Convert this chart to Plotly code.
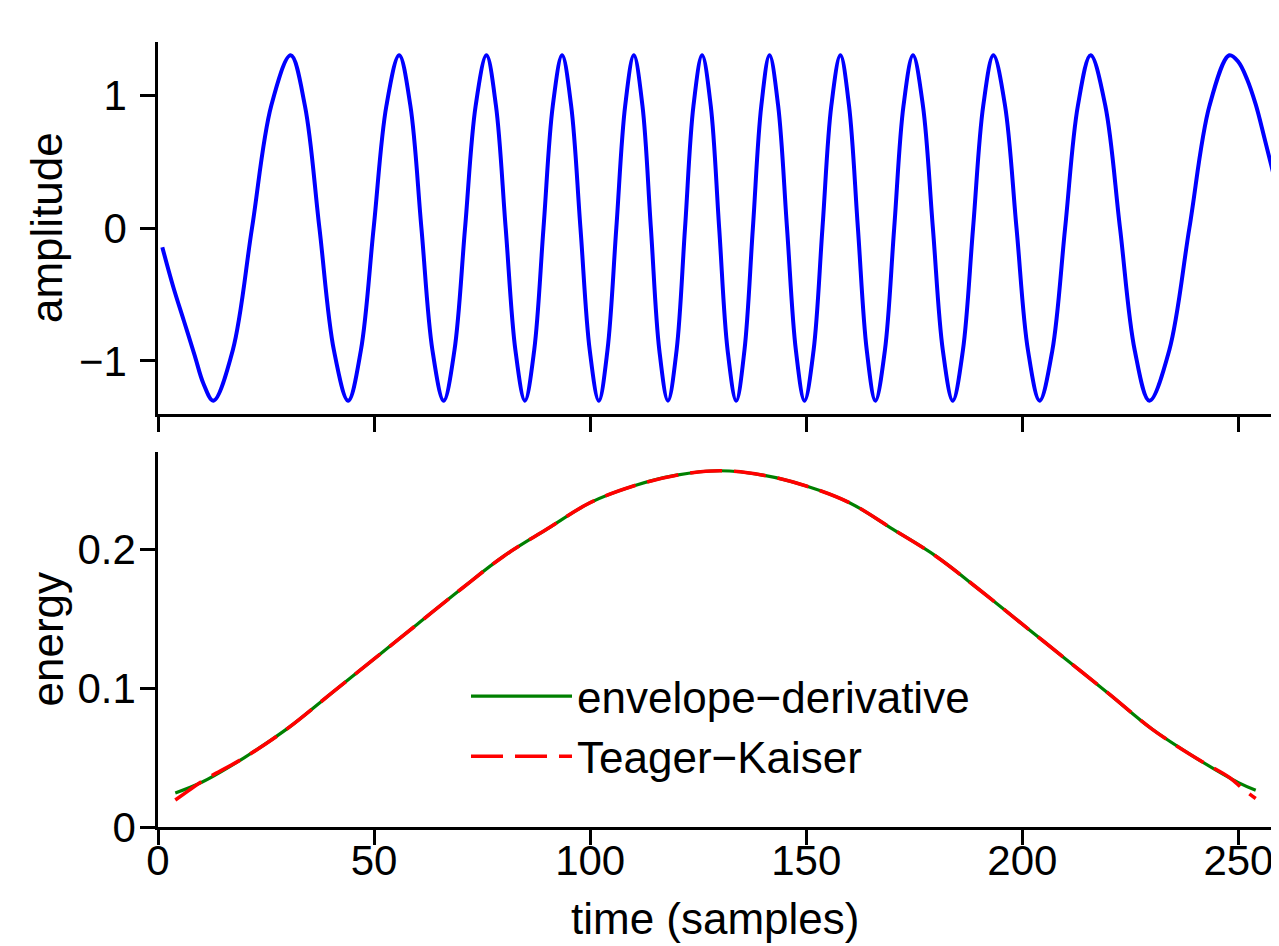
import plotly.graph_objects as go
from plotly.subplots import make_subplots

# ---- top panel: signal (time in samples, amplitude) ----
sig_t = [1, 3.5, 6.0, 8.5, 10.5, 12.8,
         17.3, 21.75, 26.2, 30.7,
         34.0, 37.35, 40.7, 44.0,
         46.95, 49.9, 52.85, 55.8,
         58.4, 60.95, 63.5, 66.1,
         68.6, 71.05, 73.5, 76.0,
         78.2, 80.45, 82.7, 84.9,
         87.05, 89.2, 91.35, 93.5,
         95.6, 97.75, 99.9, 102.0,
         104.0, 106.05, 108.1, 110.1,
         112.1, 114.05, 116.0, 118.0,
         120.0, 121.95, 123.9, 125.9,
         127.9, 129.85, 131.8, 133.8,
         135.7, 137.65, 139.6, 141.5,
         143.5, 145.55, 147.6, 149.6,
         151.7, 153.75, 155.8, 157.9,
         159.9, 161.95, 164.0, 166.0,
         168.2, 170.35, 172.5, 174.7,
         177.0, 179.3, 181.6, 183.9,
         186.25, 188.6, 190.95, 193.3,
         196.0, 198.65, 201.3, 204.0,
         206.95, 209.9, 212.85, 215.8,
         219.2, 222.6, 226.0, 229.4,
         234.0, 238.65, 243.3, 247.9,
         250.0, 252.0, 254.0, 256.0, 258.0]

sig_y = [-0.145, -0.44, -0.70, -0.96, -1.17, -1.30,
         -0.92, 0.0, 0.92, 1.30,
         0.92, 0.0, -0.92, -1.30,
         -0.92, 0.0, 0.92, 1.30,
         0.92, 0.0, -0.92, -1.30,
         -0.92, 0.0, 0.92, 1.30,
         0.92, 0.0, -0.92, -1.30,
         -0.92, 0.0, 0.92, 1.30,
         0.92, 0.0, -0.92, -1.30,
         -0.92, 0.0, 0.92, 1.30,
         0.92, 0.0, -0.92, -1.30,
         -0.92, 0.0, 0.92, 1.30,
         0.92, 0.0, -0.92, -1.30,
         -0.92, 0.0, 0.92, 1.30,
         0.92, 0.0, -0.92, -1.30,
         -0.92, 0.0, 0.92, 1.30,
         0.92, 0.0, -0.92, -1.30,
         -0.92, 0.0, 0.92, 1.30,
         0.92, 0.0, -0.92, -1.30,
         -0.92, 0.0, 0.92, 1.30,
         0.92, 0.0, -0.92, -1.30,
         -0.92, 0.0, 0.92, 1.30,
         0.92, 0.0, -0.92, -1.30,
         -0.92, 0.0, 0.92, 1.30,
         1.25, 1.12, 0.93, 0.68, 0.42]

# ---- bottom panel: energy estimates ----
env_t = [4, 10, 20, 30, 40, 50, 60, 70, 80, 90, 100, 110, 120, 130,
         140, 150, 160, 170, 180, 190, 200, 210, 220, 230, 240, 250, 254]
env_e = [0.0245, 0.032, 0.050, 0.071, 0.096, 0.121, 0.146, 0.171, 0.195,
         0.2145, 0.2335, 0.2455, 0.2533, 0.2565, 0.2533, 0.2455, 0.2335,
         0.2145, 0.195, 0.171, 0.146, 0.121, 0.096, 0.0705, 0.050, 0.032,
         0.0265]

tk_t = [4, 7, 10.5, 20, 30, 40, 50, 60, 70, 80, 90, 100, 110, 120, 130,
        140, 150, 160, 170, 180, 190, 200, 210, 220, 230, 240, 248, 251, 254]
tk_e = [0.0195, 0.026, 0.0335, 0.050, 0.071, 0.096, 0.121, 0.146, 0.171,
        0.195, 0.2145, 0.2335, 0.2455, 0.2533, 0.2565, 0.2533, 0.2455,
        0.2335, 0.2145, 0.195, 0.171, 0.146, 0.121, 0.096, 0.0705, 0.050,
        0.0355, 0.0275, 0.0205]

x_ticks = [0, 50, 100, 150, 200, 250]

FONT = "Liberation Sans, Arial, Helvetica, sans-serif"
FS = 42      # tick labels
FS_T = 44    # axis titles and legend

# page body has an 8 px margin; size the figure so it fits the 1279x946 window
OFF = 8
W, H = 1279 - OFF, 946 - OFF
ml, mr, mt, mb = 158 - OFF, 6, 42 - OFF, 946 - 827
pw = W - ml - mr
ph = H - mt - mb


def sx(px):
    return (px - OFF - ml) / pw


def sy(py):
    return ((H - mb) - (py - OFF)) / ph


top_dom = [sy(414), 1.0]
bot_dom = [0.0, sy(452)]

fig = make_subplots(rows=2, cols=1, shared_xaxes=False, vertical_spacing=0.0)

fig.add_trace(go.Scatter(x=sig_t, y=sig_y, mode="lines",
                         line=dict(color="#0000ff", width=4, shape="spline", smoothing=1.0),
                         showlegend=False), row=1, col=1)
fig.add_trace(go.Scatter(x=env_t, y=env_e, mode="lines", name="envelope\u2212derivative",
                         line=dict(color="#008000", width=3.2, shape="spline"),
                         legendgroup="a"), row=2, col=1)
fig.add_trace(go.Scatter(x=tk_t, y=tk_e, mode="lines", name="Teager\u2212Kaiser",
                         line=dict(color="#ff0000", width=3.6, dash="32px,12px", shape="spline"),
                         legendgroup="b"), row=2, col=1)

axis_common = dict(showline=True, linecolor="black", linewidth=2.5, ticks="outside",
                   ticklen=15, tickwidth=2.5, tickcolor="black", showgrid=False,
                   zeroline=False, mirror=False,
                   tickfont=dict(family=FONT, size=FS, color="black"))

fig.update_layout(
    width=W, height=H,
    margin=dict(l=ml, r=mr, t=mt, b=mb, autoexpand=False),
    paper_bgcolor="white", plot_bgcolor="white",
    font=dict(family=FONT, size=FS, color="black"),
    xaxis=dict(domain=[0, 1], range=[0, 258], tickvals=x_ticks, showticklabels=False,
               anchor="y", **axis_common),
    yaxis=dict(domain=top_dom, range=[-1.4, 1.4], tickvals=[-1, 0, 1],
               ticktext=["\u22121", "0", "1"], ticklabelstandoff=5, anchor="x", **axis_common),
    xaxis2=dict(domain=[0, 1], range=[0, 258], tickvals=x_ticks,
                ticktext=[str(v) for v in x_ticks], ticklabelstandoff=-20,
                anchor="y2", **axis_common),
    yaxis2=dict(domain=bot_dom, range=[0, 0.27], tickvals=[0, 0.1, 0.2],
                ticktext=["0", "0.1", "0.2"], ticklabelstandoff=-4, anchor="x2", **axis_common),
    legend=dict(x=sx(466), y=sy(661), xanchor="left", yanchor="top",
                bgcolor="rgba(0,0,0,0)", itemwidth=101, tracegroupgap=0,
                font=dict(family=FONT, size=FS_T, color="black")),
    annotations=[
        dict(text="amplitude", textangle=-90, xref="paper", yref="paper",
             x=sx(47), y=sum(top_dom) / 2, xanchor="center", yanchor="middle",
             showarrow=False, font=dict(family=FONT, size=FS_T, color="black")),
        dict(text="energy", textangle=-90, xref="paper", yref="paper",
             x=sx(47), y=sum(bot_dom) / 2, xanchor="center", yanchor="middle",
             showarrow=False, font=dict(family=FONT, size=FS_T, color="black")),
        dict(text="time (samples)", xref="paper", yref="paper",
             x=sx(715), y=sy(918), xanchor="center", yanchor="middle",
             showarrow=False, font=dict(family=FONT, size=FS_T, color="black")),
    ],
)

fig.write_html("out.html")
